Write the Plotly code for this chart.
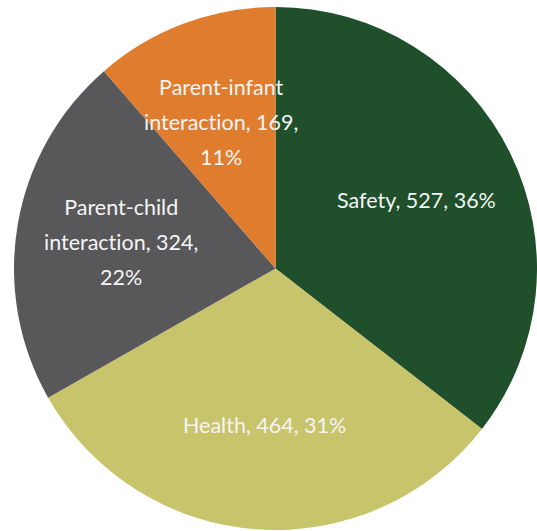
import math
import plotly.graph_objects as go

# Program areas and number of items in each
categories = ["Safety", "Health", "Parent-child interaction", "Parent-infant interaction"]
counts = [527, 464, 324, 169]
# Line breaks used in the slice labels
label_lines = [
    ["Safety, {n}, {p}%"],
    ["Health, {n}, {p}%"],
    ["Parent-child", "interaction, {n},", "{p}%"],
    ["Parent-infant", "interaction, {n},", "{p}%"],
]
colors = ["#1f4f2b", "#c8c46c", "#58585a", "#e07c2e"]

W, H = 537, 531
dom_x = [14 / W, 1.0]
dom_y = [1 / H, 524 / H]

fig = go.Figure(go.Pie(
    labels=categories,
    values=counts,
    sort=False,
    direction="clockwise",
    rotation=0,
    marker=dict(colors=colors, line=dict(width=0)),
    textinfo="none",
    hoverinfo="label+value+percent",
    domain=dict(x=dom_x, y=dom_y),
    showlegend=False,
))

# Place each label at its slice's mid-angle, 60% of the way out from the centre
cx = (dom_x[0] + dom_x[1]) / 2 * W
cy = (1 - (dom_y[0] + dom_y[1]) / 2) * H
radius = min((dom_x[1] - dom_x[0]) * W, (dom_y[1] - dom_y[0]) * H) / 2
total = sum(counts)
start = 0.0
for lines, n in zip(label_lines, counts):
    frac = n / total
    mid = (start + frac / 2) * 2 * math.pi
    start += frac
    px = cx + 0.6 * radius * math.sin(mid)
    py = cy - 0.6 * radius * math.cos(mid)
    pct = round(frac * 100)
    text = "<br>".join(
        "<span style='font-size:21.5px;font-variant-ligatures:none'>"
        + ln.format(n=n, p=pct) + "</span>"
        for ln in lines
    )
    fig.add_annotation(
        x=px / W, y=1 - py / H, xref="paper", yref="paper",
        text=text, showarrow=False, xanchor="center", yanchor="middle",
        align="center", font=dict(family="Lato", size=27, color="#f4f4f4"),
    )

fig.update_layout(
    width=W, height=H,
    margin=dict(l=0, r=0, t=0, b=0),
    paper_bgcolor="white",
    plot_bgcolor="white",
)

fig.write_html("out.html")
